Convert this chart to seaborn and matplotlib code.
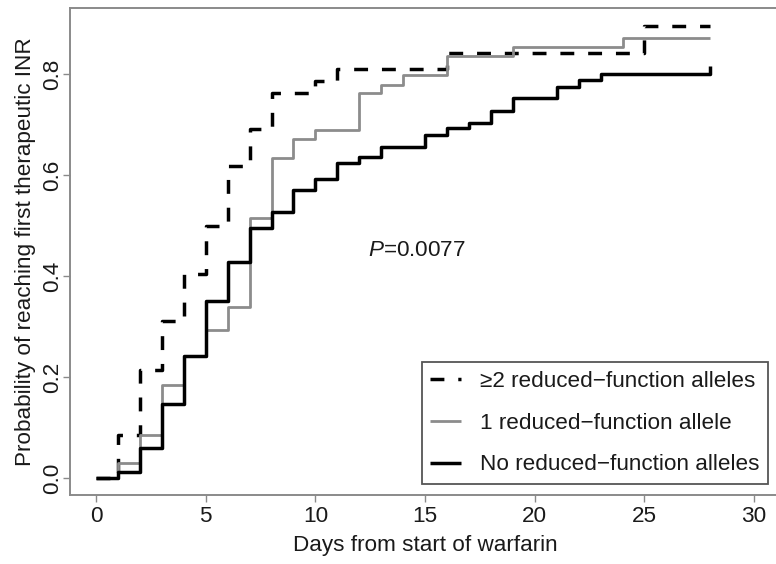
import pandas as pd
import matplotlib.pyplot as plt
import seaborn as sns

# Kaplan-Meier style step data
days_two = [0, 1, 2, 3, 4, 5, 6, 7, 8, 10, 11, 16, 25, 28]
prob_two = [0.0, 0.085, 0.214, 0.31, 0.404, 0.499, 0.618, 0.691, 0.762, 0.786, 0.81, 0.842, 0.895, 0.895]

days_one = [0, 1, 2, 3, 4, 5, 6, 7, 8, 9, 10, 12, 13, 14, 16, 19, 24, 28]
prob_one = [0.0, 0.03, 0.085, 0.184, 0.242, 0.293, 0.339, 0.515, 0.634, 0.671, 0.689, 0.762, 0.778,
            0.798, 0.836, 0.854, 0.872, 0.872]

days_none = [0, 1, 2, 3, 4, 5, 6, 7, 8, 9, 10, 11, 12, 13, 15, 16, 17, 18, 19, 21, 22, 23, 28]
prob_none = [0.0, 0.012, 0.059, 0.146, 0.242, 0.35, 0.428, 0.495, 0.527, 0.57, 0.592, 0.624, 0.635,
             0.656, 0.679, 0.693, 0.703, 0.727, 0.752, 0.775, 0.788, 0.80, 0.815]

group_labels = ['\u22652 reduced\u2212function alleles',
                '1 reduced\u2212function allele',
                'No reduced\u2212function alleles']
x_ticks = [0, 5, 10, 15, 20, 25, 30]
y_ticks = [0.0, 0.2, 0.4, 0.6, 0.8]
p_text = '=0.0077'

df = pd.concat([
    pd.DataFrame({'day': days_two, 'prob': prob_two, 'group': group_labels[0]}),
    pd.DataFrame({'day': days_one, 'prob': prob_one, 'group': group_labels[1]}),
    pd.DataFrame({'day': days_none, 'prob': prob_none, 'group': group_labels[2]}),
], ignore_index=True)

sns.set_style('ticks')
plt.rcParams['font.family'] = ['Liberation Sans', 'DejaVu Sans']
plt.rcParams['mathtext.fontset'] = 'custom'
plt.rcParams['mathtext.rm'] = 'Liberation Sans'
plt.rcParams['mathtext.it'] = 'Liberation Sans:italic'

fs = 16.2
text_color = '#1a1a1a'
frame_color = '#8a8a8a'

fig = plt.figure(figsize=(7.76, 5.64), dpi=100)
ax = fig.add_axes([69.7 / 776, 69.5 / 564, 710.8 / 776, 486.5 / 564])

palette = {group_labels[0]: 'black', group_labels[1]: '#8c8c8c', group_labels[2]: 'black'}
dashes = {group_labels[0]: (4, 4), group_labels[1]: '', group_labels[2]: ''}
sns.lineplot(data=df, x='day', y='prob', hue='group', style='group',
             hue_order=group_labels, style_order=group_labels,
             palette=palette, dashes=dashes, estimator=None, sort=False,
             drawstyle='steps-post', legend=False, ax=ax, linewidth=2.2)

widths = [2.5, 2.0, 2.5]
for line, w in zip(ax.lines, widths):
    line.set_linewidth(w)
    line.set_solid_capstyle('butt')
    line.set_dash_capstyle('butt')

ax.set_xlim(-1.2, 31.2)
ax.set_ylim(-0.0327, 0.9307)
ax.set_xticks(x_ticks)
ax.set_yticks(y_ticks)
ax.set_yticklabels([f'{v:.1f}' for v in y_ticks], rotation=90, va='center')
ax.tick_params(axis='both', length=5, width=1.0, color=frame_color, labelsize=fs,
               labelcolor=text_color)
ax.tick_params(axis='x', pad=3)
ax.tick_params(axis='y', pad=0)
for side in ['left', 'right', 'top', 'bottom']:
    ax.spines[side].set_color(frame_color)
    ax.spines[side].set_linewidth(1.4)
    ax.spines[side].set_visible(True)

ax.set_xlabel('Days from start of warfarin', fontsize=fs, color=text_color, labelpad=6)
ax.set_ylabel('Probability of reaching first therapeutic INR', fontsize=fs, color=text_color,
              labelpad=4)

ax.text(12.4, 0.451, r'$\it{P}$' + p_text, fontsize=fs, color=text_color,
        ha='left', va='center')

leg = ax.legend(handles=ax.lines, labels=group_labels, loc='lower right',
                bbox_to_anchor=(0.9824, 0.0216), borderaxespad=0, fontsize=fs,
                frameon=True, fancybox=False, framealpha=1, edgecolor='#555555',
                handlelength=1.35, handletextpad=0.85, labelspacing=0.93, borderpad=0.38)
leg.get_frame().set_linewidth(1.3)
for t in leg.get_texts():
    t.set_color(text_color)

fig.savefig('out.png', dpi=100)
